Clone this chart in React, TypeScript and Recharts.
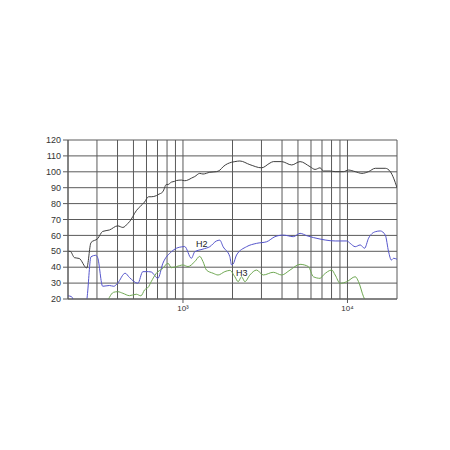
import React from "react";
import {
  LineChart,
  Line,
  XAxis,
  YAxis,
  CartesianGrid,
  ReferenceDot,
} from "recharts";

// frequency (Hz) / level (dB)
const mainFreq = [
  200, 206, 219, 234, 260, 276, 303, 325, 357, 401, 431, 462, 473, 520, 584, 618,
  641, 689, 704, 755, 792, 810, 850, 890, 912, 978, 1024, 1049, 1125, 1179, 1264,
  1324, 1455, 1598, 1674, 1754, 1973, 2067, 2217, 2551, 3006, 3379, 3539, 3981,
  4581, 5149, 5924, 6353, 6815, 7140, 7844, 8414, 9455, 10140, 11143, 12241,
  13428, 14755, 16977, 18214, 19080, 20000,
];
const mainDb = [
  50, 50, 46, 45.5, 39.5, 55.5, 58, 62.5, 63.4, 66, 65, 67.5, 68.6, 75.5, 81, 84.3,
  84.3, 85, 85.6, 87.5, 92, 92, 93.5, 94, 94.5, 94.8, 94.4, 94.5, 96, 97, 99,
  98.6, 99.7, 100.1, 101, 103.2, 106, 106.4, 106.8, 104.5, 102.5, 105.5, 106.4, 106.4,
  104.3, 106.4, 103.2, 101.5, 102.5, 100.5, 100.5, 100.1, 100.1, 101.1, 100.1, 99,
  100.1, 102.2, 102.2, 100.1, 96, 90,
];

const h2Freq = [
  200, 210, 220, 245, 258, 262, 276, 295, 303, 325, 357, 380, 401, 445, 473, 532,
  570, 618, 641, 704, 755, 850, 912, 1000, 1024, 1125, 1179, 1324, 1455, 1598, 1674,
  1754, 1927, 1973, 2018, 2117, 2435, 2803, 3225, 3624, 4072, 4686, 5149, 5655,
  6815, 7311, 8414, 9916, 10387, 11143, 11952, 12697, 13428, 14755, 15826, 16977,
  17783, 18472, 19080, 20000,
];
const h2Db = [
  22, 21.5, 17, 12, 16, 22, 46.6, 47.5, 46, 28, 28.5, 28, 30, 36.2, 33.5, 29.9,
  37.2, 37.2, 37, 33, 42.5, 49.7, 51.9, 52.9, 53, 45.6, 49.7, 51.4, 52.9, 56.5, 57,
  52.9, 46.6, 41.5, 42, 47.7, 52.9, 55, 56, 59.2, 60.2, 59.2, 61.3, 59.8,
  57.7, 57.1, 56.5, 56.5, 55, 52.9, 54, 51.9, 58.2, 62.3, 62.8, 60.2,
  49.7, 44.5, 45.6, 45,
];

const h3Freq = [
  340, 357, 378, 401, 431, 473, 520, 555, 584, 618, 641, 689, 755, 810, 850, 912,
  1000, 1073, 1179, 1264, 1324, 1389, 1524, 1634, 1796, 1927, 2067, 2165, 2270,
  2378, 2551, 2803, 3075, 3539, 3981, 4474, 5149, 5784, 6204, 6815, 7140, 8033,
  8414, 9027, 9916, 11143, 11670, 12520, 12823, 13200,
];
const h3Db = [
  16, 21, 24.2, 24.6, 23.6, 22.1, 23, 22, 25.7, 27.7, 30.9, 36.2, 39.3, 42.5, 39.7, 40.4,
  41.4, 40.4, 43.5, 46.8, 43.5, 38.2, 36.2, 35.1, 37.2, 38, 34, 30.9, 34,
  30.9, 35.1, 38.2, 35.1, 36.8, 35.1, 38.2, 41.8, 40.4, 34, 33, 35.1, 38.2,
  35.1, 29.9, 30.9, 34, 30.9, 21.4, 19, 14,
];

const xTicks = [
  200, 300, 400, 500, 600, 700, 800, 900, 1000, 2000, 3000, 4000, 5000, 6000, 7000,
  8000, 9000, 10000, 20000,
];
const xLabels: Record<number, string> = { 1000: "10³", 10000: "10⁴" };
const yTicks = [20, 30, 40, 50, 60, 70, 80, 90, 100, 110, 120];
const yMinorTicks = [
  22, 24, 26, 28, 32, 34, 36, 38, 42, 44, 46, 48, 52, 54, 56, 58, 62, 64, 66, 68,
  72, 74, 76, 78, 82, 84, 86, 88, 92, 94, 96, 98, 102, 104, 106, 108, 112, 114, 116, 118,
];

const annotations = [
  { label: "H2", freq: 1300, db: 55 },
  { label: "H3", freq: 2280, db: 36.4 },
];

const toPoints = (freq: number[], db: number[]) =>
  freq.map((f, i) => ({ f, db: db[i] }));

const mainData = toPoints(mainFreq, mainDb);
const h2Data = toPoints(h2Freq, h2Db);
const h3Data = toPoints(h3Freq, h3Db);

const FONT = "'Liberation Sans', Arial, sans-serif";
const GRID = "#5a5a5a";

const FreqTick = (props: any) => {
  const { x, y, payload } = props;
  const text = xLabels[payload.value];
  if (!text) return null;
  return (
    <g>
      <line x1={x} y1={y} x2={x} y2={y + 4} stroke={GRID} />
      <text x={x} y={y + 12} textAnchor="middle" fontSize={8} fill="#333" fontFamily={FONT}>
        {text}
      </text>
    </g>
  );
};

export default function App() {
  return (
    <div style={{ position: "absolute", left: 0, top: 0, width: 450, height: 450, background: "#fff" }}>
      <LineChart
        width={450}
        height={450}
        margin={{ top: 140, right: 53, bottom: 131, left: 38 }}
      >
        <CartesianGrid stroke={GRID} strokeWidth={1} />
        <XAxis
          dataKey="f"
          type="number"
          scale="log"
          domain={[200, 20000]}
          ticks={xTicks}
          allowDataOverflow
          height={20}
          tickLine={false}
          tickSize={0}
          tickMargin={0}
          axisLine={{ stroke: GRID }}
          tick={<FreqTick />}
          interval={0}
        />
        <YAxis
          type="number"
          domain={[20, 120]}
          ticks={yTicks}
          allowDataOverflow
          width={30}
          tickSize={5}
          tickMargin={2}
          interval={0}
          tickLine={{ stroke: GRID }}
          axisLine={{ stroke: GRID }}
          tick={{ fontSize: 9, fill: "#333", fontFamily: FONT }}
        />
        <YAxis
          yAxisId="minor"
          type="number"
          domain={[20, 120]}
          ticks={yMinorTicks}
          allowDataOverflow
          mirror
          tick={false}
          tickSize={3}
          interval={0}
          axisLine={false}
          tickLine={{ stroke: "#888" }}
        />
        <Line
          data={mainData}
          dataKey="db"
          type="monotone"
          stroke="#404040"
          strokeWidth={1}
          dot={false}
          isAnimationActive={false}
        />
        <Line
          data={h2Data}
          dataKey="db"
          type="monotone"
          stroke="#5555cc"
          strokeWidth={1}
          dot={false}
          isAnimationActive={false}
        />
        <Line
          data={h3Data}
          dataKey="db"
          type="monotone"
          stroke="#6fa853"
          strokeWidth={1}
          dot={false}
          isAnimationActive={false}
        />
        {annotations.map((a) => (
          <ReferenceDot
            key={a.label}
            x={a.freq}
            y={a.db}
            r={0}
            fill="none"
            stroke="none"
            label={{ value: a.label, position: "center", fontSize: 9, fill: "#222", fontFamily: FONT }}
          />
        ))}
      </LineChart>
    </div>
  );
}
